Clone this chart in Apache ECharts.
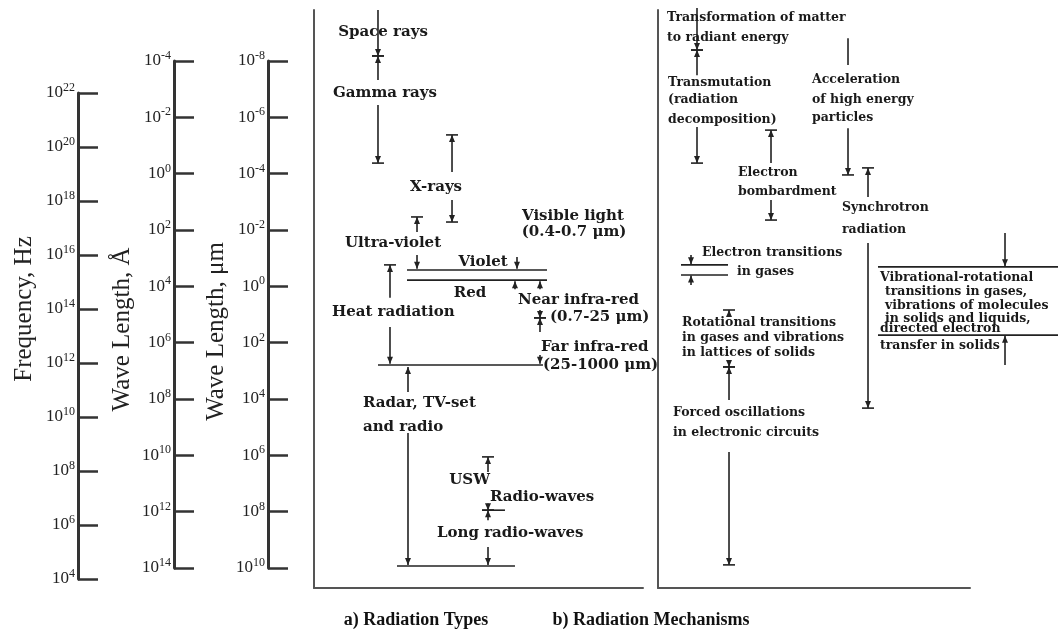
<!DOCTYPE html>
<html>
<head>
<meta charset="utf-8">
<script src="https://cdn.jsdelivr.net/npm/echarts@6.0.0/dist/echarts.min.js"></script>
<style>
  html, body { margin: 0; background: #fff; }
  #chart { width: 1058px; height: 641px; }
</style>
</head>
<body>
<div id="chart"></div>
<script>
// scale ranges (powers of ten)
const freqRange = [4, 22];      // Hz
const angRange = [-4, 14];      // Angstrom
const umRange = [-8, 10];       // micrometre

// panel y values are log10 of wavelength in micrometres, x is 0..100 across the panel
const panelY = [-9.8, 10.7];

// segments: [x1, y1, x2, y2, capStart, capEnd]  cap 0 none, 1 arrow, 2 arrow + bar
const typeSegs = [
  [19.45, -9.80, 19.45, -8.17, 0, 2],   // space rays
  [19.45, -8.17, 19.45, -7.32, 2, 0],   // gamma rays
  [19.45, -6.43, 19.45, -4.37, 0, 2],
  [41.95, -5.37, 41.95, -4.05, 2, 0],   // x-rays
  [41.95, -3.06, 41.95, -2.28, 0, 2],
  [31.31, -2.46, 31.31, -1.93, 2, 0],   // ultra-violet
  [31.31, -1.11, 31.31, -0.62, 0, 1],
  [61.70, -1.04, 61.70, -0.62, 0, 1],   // violet
  [28.27, -0.58, 70.82, -0.58, 0, 0],   // violet line
  [28.27, -0.22, 70.82, -0.22, 0, 0],   // red line
  [61.09, 0.10, 61.09, -0.18, 0, 1],
  [68.69, 0.10, 68.69, -0.18, 0, 1],    // near infra-red
  [68.69, 0.84, 68.69, 1.12, 0, 2],
  [68.69, 1.12, 68.69, 1.62, 2, 0],     // far infra-red
  [68.69, 2.44, 68.69, 2.75, 0, 1],
  [23.10, -0.76, 23.10, 0.41, 2, 0],    // heat radiation
  [23.10, 1.44, 23.10, 2.75, 0, 1],
  [19.45, 2.79, 69.60, 2.79, 0, 0],     // 1 mm line
  [28.57, 3.75, 28.57, 2.86, 0, 1],     // radar, tv, radio
  [28.57, 5.20, 28.57, 9.88, 0, 1],
  [52.89, 6.05, 52.89, 6.59, 2, 0],     // USW
  [52.89, 7.70, 52.89, 7.94, 0, 2],
  [52.89, 7.94, 52.89, 8.30, 2, 0],
  [52.89, 7.94, 58.05, 7.94, 0, 0],
  [52.89, 9.25, 52.89, 9.88, 0, 1],     // long radio-waves
  [25.23, 9.92, 61.09, 9.92, 0, 0]
];

// labels: [x, y, text, align]
const typeLabels = [
  [20.97, -9.02, 'Space rays', 'center'],
  [21.58, -6.85, 'Gamma rays', 'center'],
  [37.08, -3.52, 'X-rays', 'center'],
  [78.72, -2.49, 'Visible light', 'center'],
  [79.03, -1.93, '(0.4-0.7 μm)', 'center'],
  [24.01, -1.54, 'Ultra-violet', 'center'],
  [51.37, -0.86, 'Violet', 'center'],
  [47.42, 0.24, 'Red', 'center'],
  [62.01, 0.49, 'Near infra-red', 'left'],
  [71.73, 1.09, '(0.7-25 μm)', 'left'],
  [5.47, 0.91, 'Heat radiation', 'left'],
  [69.00, 2.15, 'Far infra-red', 'left'],
  [69.60, 2.79, '(25-1000 μm)', 'left'],
  [14.89, 4.14, 'Radar, TV-set', 'left'],
  [14.89, 4.99, 'and radio', 'left'],
  [53.50, 6.87, 'USW', 'right'],
  [53.50, 7.47, 'Radio-waves', 'left'],
  [37.39, 8.75, 'Long radio-waves', 'left']
];

const mechSegs = [
  [12.50, -9.87, 12.50, -8.38, 0, 2],   // matter -> radiant energy
  [12.50, -8.38, 12.50, -7.49, 2, 0],   // transmutation
  [12.50, -5.65, 12.50, -4.37, 0, 2],
  [36.22, -5.54, 36.22, -4.37, 2, 0],   // electron bombardment
  [36.22, -3.06, 36.22, -2.35, 0, 2],
  [60.90, -8.80, 60.90, -7.85, 0, 0],   // acceleration
  [60.90, -5.61, 60.90, -3.95, 0, 2],
  [67.31, -4.20, 67.31, -3.17, 2, 0],   // synchrotron
  [67.31, -1.54, 67.31, 4.32, 0, 2],
  [10.58, -1.11, 10.58, -0.78, 0, 1],   // electron transitions
  [10.58, -0.05, 10.58, -0.38, 0, 1],
  [7.37, -0.76, 22.44, -0.76, 0, 0],
  [7.37, -0.40, 22.44, -0.40, 0, 0],
  [111.22, -1.89, 111.22, -0.71, 0, 1], // vibrational-rotational
  [111.22, 2.79, 111.22, 1.75, 0, 1],
  [70.51, -0.69, 128.21, -0.69, 0, 0],
  [70.51, 1.73, 128.21, 1.73, 0, 0],
  [22.76, 0.84, 22.76, 1.05, 2, 0],     // rotational
  [22.76, 2.61, 22.76, 2.86, 0, 2],
  [22.76, 2.86, 22.76, 4.03, 2, 0],     // forced oscillations
  [22.76, 5.88, 22.76, 9.88, 0, 2]
];

const mechLabels = [
  [2.88, -9.51, 'Transformation of matter', 'left'],
  [2.88, -8.80, 'to radiant energy', 'left'],
  [3.21, -7.21, 'Transmutation', 'left'],
  [3.21, -6.61, '(radiation', 'left'],
  [3.21, -5.90, 'decomposition)', 'left'],
  [25.64, -4.02, 'Electron', 'left'],
  [25.64, -3.35, 'bombardment', 'left'],
  [49.36, -7.32, 'Acceleration', 'left'],
  [49.36, -6.61, 'of high energy', 'left'],
  [49.36, -5.97, 'particles', 'left'],
  [58.97, -2.78, 'Synchrotron', 'left'],
  [58.97, -2.00, 'radiation', 'left'],
  [14.10, -1.18, 'Electron transitions', 'left'],
  [25.32, -0.51, 'in gases', 'left'],
  [71.15, -0.29, 'Vibrational-rotational', 'left'],
  [72.76, 0.21, 'transitions in gases,', 'left'],
  [72.76, 0.70, 'vibrations of molecules', 'left'],
  [72.76, 1.16, 'in solids and liquids,', 'left'],
  [71.15, 1.51, 'directed electron', 'left'],
  [71.15, 2.12, 'transfer in solids', 'left'],
  [7.69, 1.30, 'Rotational transitions', 'left'],
  [7.69, 1.83, 'in gases and vibrations', 'left'],
  [7.69, 2.36, 'in lattices of solids', 'left'],
  [4.81, 4.49, 'Forced oscillations', 'left'],
  [4.81, 5.20, 'in electronic circuits', 'left']
];

const serif = '"Liberation Serif", "Times New Roman", serif';
const ink = '#222';

function capShape(kids, p, from, kind) {
  if (!kind) return;
  const dx = p[0] - from[0], dy = p[1] - from[1];
  const len = Math.hypot(dx, dy) || 1;
  const ux = dx / len, uy = dy / len;
  const L = 7, W = 3;
  kids.push({
    type: 'polygon',
    shape: { points: [
      [p[0], p[1]],
      [p[0] - ux * L - uy * W, p[1] - uy * L + ux * W],
      [p[0] - ux * L + uy * W, p[1] - uy * L - ux * W]
    ] },
    style: { fill: ink }
  });
  if (kind === 2) {
    kids.push({
      type: 'line',
      shape: { x1: p[0] - uy * 6, y1: p[1] + ux * 6, x2: p[0] + uy * 6, y2: p[1] - ux * 6 },
      style: { stroke: ink, lineWidth: 1.6 }
    });
  }
}

function segRender(rows) {
  return function (params, api) {
    const s = rows[params.dataIndex];
    const a = api.coord([s[0], s[1]]);
    const b = api.coord([s[2], s[3]]);
    const kids = [{
      type: 'line',
      shape: { x1: a[0], y1: a[1], x2: b[0], y2: b[1] },
      style: { stroke: ink, lineWidth: 1.6 }
    }];
    capShape(kids, a, b, s[4]);
    capShape(kids, b, a, s[5]);
    return { type: 'group', children: kids };
  };
}

function labelRender(rows, font) {
  return function (params, api) {
    const r = rows[params.dataIndex];
    const p = api.coord([r[0], r[1]]);
    return {
      type: 'text', x: p[0], y: p[1],
      style: { text: r[2], fill: '#1a1a1a', font: font, align: r[3], verticalAlign: 'middle', textAlign: r[3], textVerticalAlign: 'middle' }
    };
  };
}

function scaleAxis(gridIndex, range, inverse, name, nameGap, namePad) {
  return {
    type: 'value', gridIndex: gridIndex, min: range[0], max: range[1], interval: 2,
    inverse: inverse, position: 'left',
    name: name, nameLocation: 'middle', nameRotate: 90, nameGap: nameGap, nameMoveOverlap: false,
    nameTextStyle: { fontFamily: serif, fontSize: 25, color: ink, padding: namePad },
    axisLine: { show: true, onZero: false, lineStyle: { color: '#333', width: 3 } },
    axisTick: { show: true, inside: true, length: 20, lineStyle: { color: '#333', width: 2.5 } },
    axisLabel: {
      show: true, margin: 3, showMinLabel: true, showMaxLabel: true, hideOverlap: false,
      fontFamily: serif, fontSize: 17, color: ink,
      formatter: v => '10{s|' + v + '}',
      rich: { s: { fontFamily: serif, fontSize: 12, color: ink, verticalAlign: 'top', padding: [0, 0, 10, 0] } }
    },
    splitLine: { show: false }
  };
}

function panelX(gridIndex) {
  return {
    type: 'value', gridIndex: gridIndex, min: 0, max: 100,
    axisLine: { show: true, onZero: false, lineStyle: { color: '#555', width: 2 } },
    axisTick: { show: false }, axisLabel: { show: false }, splitLine: { show: false }
  };
}
function panelYAxis(gridIndex) {
  return {
    type: 'value', gridIndex: gridIndex, min: panelY[0], max: panelY[1], inverse: true,
    axisLine: { show: true, onZero: false, lineStyle: { color: '#555', width: 2 } },
    axisTick: { show: false }, axisLabel: { show: false }, splitLine: { show: false }
  };
}

const chart = echarts.init(document.getElementById('chart'), null, { renderer: 'canvas' });
const fontA = 'bold 15px "DejaVu Serif", serif';
const fontB = 'bold 12.5px "DejaVu Serif", serif';

chart.setOption({
  backgroundColor: '#fff',
  animation: false,
  title: [
    { text: 'a) Radiation Types', left: 411, top: 606, textAlign: 'center',
      textStyle: { fontFamily: serif, fontWeight: 'bold', fontSize: 18, color: '#111' } },
    { text: 'b) Radiation Mechanisms', left: 646, top: 606, textAlign: 'center',
      textStyle: { fontFamily: serif, fontWeight: 'bold', fontSize: 18, color: '#111' } }
  ],
  grid: [
    { left: 78, top: 93, width: 20, bottom: 62, outerBoundsMode: 'none' },
    { left: 174, top: 61, width: 20, bottom: 73, outerBoundsMode: 'none' },
    { left: 268, top: 61, width: 20, bottom: 73, outerBoundsMode: 'none' },
    { left: 314, top: 10, width: 329, bottom: 53, outerBoundsMode: 'none' },
    { left: 658, top: 10, width: 312, bottom: 53, outerBoundsMode: 'none' }
  ],
  xAxis: [
    { type: 'value', gridIndex: 0, show: false },
    { type: 'value', gridIndex: 1, show: false },
    { type: 'value', gridIndex: 2, show: false },
    panelX(3),
    panelX(4)
  ],
  yAxis: [
    scaleAxis(0, freqRange, false, 'Frequency, Hz', 41, [0, 0, 0, 54]),
    scaleAxis(1, angRange, true, 'Wave Length, Å', 39, [0, 30, 0, 0]),
    scaleAxis(2, umRange, true, 'Wave Length, μm', 39, [0, 34, 0, 0]),
    panelYAxis(3),
    panelYAxis(4)
  ],
  series: [
    { type: 'custom', xAxisIndex: 3, yAxisIndex: 3, renderItem: segRender(typeSegs),
      encode: { x: [0, 2], y: [1, 3] }, data: typeSegs.map(s => s.slice(0, 4)), silent: true },
    { type: 'custom', xAxisIndex: 3, yAxisIndex: 3, renderItem: labelRender(typeLabels, fontA),
      encode: { x: 0, y: 1 }, data: typeLabels.map(r => [r[0], r[1]]), silent: true },
    { type: 'custom', xAxisIndex: 4, yAxisIndex: 4, renderItem: segRender(mechSegs),
      encode: { x: [0, 2], y: [1, 3] }, data: mechSegs.map(s => s.slice(0, 4)), silent: true },
    { type: 'custom', xAxisIndex: 4, yAxisIndex: 4, renderItem: labelRender(mechLabels, fontB),
      encode: { x: 0, y: 1 }, data: mechLabels.map(r => [r[0], r[1]]), silent: true }
  ]
});
</script>
</body>
</html>
